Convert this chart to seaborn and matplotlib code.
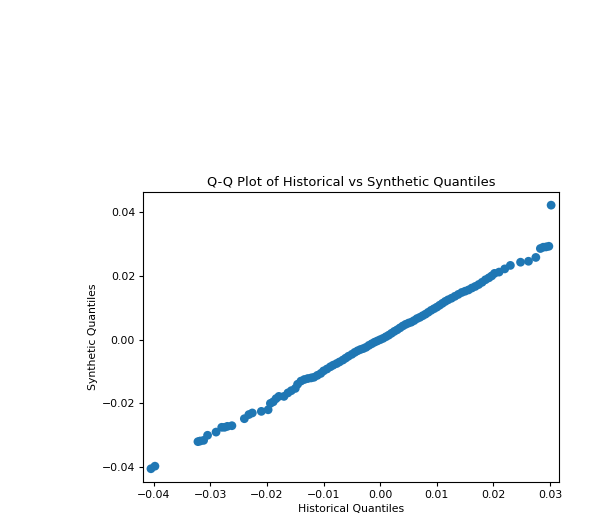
import matplotlib
matplotlib.use("Agg")
import matplotlib.pyplot as plt
import seaborn as sns

hist_q = [-0.0405, -0.0398, -0.0322, -0.0318, -0.0312, -0.0305, -0.0290, -0.0280, -0.0275, -0.0270, -0.0262,
          -0.0240, -0.0232, -0.0226, -0.0210, -0.0198, -0.0194, -0.0189, -0.0184, -0.0179, -0.0170, -0.0163,
          -0.0157, -0.0150, -0.0146, -0.0140, -0.0134, -0.0128, -0.0122, -0.0117, -0.0111, -0.0105, -0.0100,
          -0.0094, -0.0088, -0.0083, -0.0077, -0.0072, -0.0066, -0.0061, -0.0056, -0.0050, -0.0045, -0.0040,
          -0.0035, -0.0030, -0.0025, -0.0020, -0.0015, -0.0010, -0.0005, 0.0000, 0.0005, 0.0010, 0.0015,
          0.0020, 0.0025, 0.0030, 0.0035, 0.0040, 0.0045, 0.0050, 0.0055, 0.0060, 0.0065, 0.0070, 0.0075,
          0.0080, 0.0085, 0.0090, 0.0095, 0.0100, 0.0105, 0.0110, 0.0115, 0.0120, 0.0126, 0.0132, 0.0138,
          0.0144, 0.0150, 0.0156, 0.0162, 0.0168, 0.0174, 0.0180, 0.0186, 0.0192, 0.0197, 0.0202, 0.0210,
          0.0220, 0.0230, 0.0248, 0.0262, 0.0275, 0.0283, 0.0288, 0.0293, 0.0298, 0.0302]
synth_q = [-0.0405, -0.0397, -0.0320, -0.0318, -0.0316, -0.0300, -0.0290, -0.0275, -0.0275, -0.0272, -0.0270,
           -0.0248, -0.0235, -0.0230, -0.0225, -0.0220, -0.0200, -0.0195, -0.0185, -0.0178, -0.0178, -0.0167,
           -0.0160, -0.0153, -0.0140, -0.0130, -0.0125, -0.0122, -0.0120, -0.0118, -0.0112, -0.0106, -0.0098,
           -0.0092, -0.0085, -0.0080, -0.0075, -0.0070, -0.0064, -0.0058, -0.0052, -0.0046, -0.0040, -0.0035,
           -0.0031, -0.0028, -0.0024, -0.0018, -0.0013, -0.0008, -0.0004, 0.0000, 0.0004, 0.0009, 0.0014,
           0.0020, 0.0026, 0.0031, 0.0037, 0.0043, 0.0048, 0.0052, 0.0055, 0.0060, 0.0066, 0.0070, 0.0075,
           0.0080, 0.0086, 0.0092, 0.0097, 0.0102, 0.0108, 0.0114, 0.0120, 0.0125, 0.0130, 0.0136, 0.0142,
           0.0148, 0.0152, 0.0156, 0.0162, 0.0167, 0.0173, 0.0180, 0.0188, 0.0194, 0.0200, 0.0208, 0.0212,
           0.0222, 0.0233, 0.0243, 0.0246, 0.0258, 0.0286, 0.0290, 0.0291, 0.0293, 0.0422]

fig = plt.figure(figsize=(5.96, 5.22), dpi=100)
ax = fig.add_axes([0.240, 0.077, 0.698, 0.555])
sns.scatterplot(x=hist_q, y=synth_q, ax=ax, color="#1f77b4", s=40, edgecolor="none", linewidth=0)
ax.set_xlim(-0.0419, 0.0316)
ax.set_ylim(-0.0446, 0.0463)
ax.set_title("Q-Q Plot of Historical vs Synthetic Quantiles", fontsize=9.4, pad=4.5)
ax.set_xlabel("Historical Quantiles", fontsize=7.8, labelpad=3)
ax.set_ylabel("Synthetic Quantiles", fontsize=7.8, labelpad=3)
ax.tick_params(labelsize=7.8, length=3, pad=2.7)
fig.savefig("out.png", dpi=100)
